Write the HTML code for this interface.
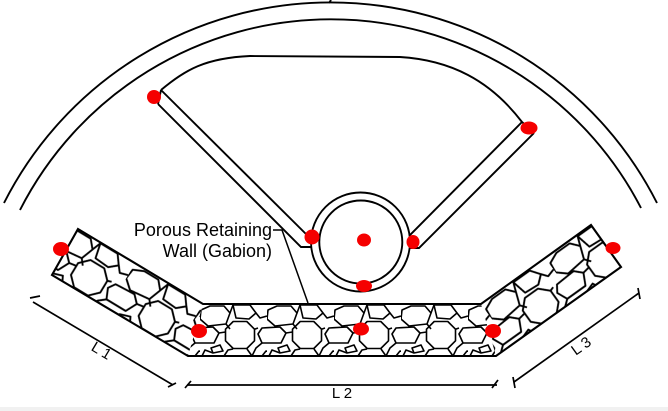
<!DOCTYPE html>
<html>
<head>
<meta charset="utf-8">
<style>
  html,body{margin:0;padding:0;background:#fff;}
  svg{display:block;}
  text{font-family:"Liberation Sans", Arial, sans-serif;fill:#000;}
</style>
</head>
<body>
<svg width="668" height="411" viewBox="0 0 668 411" xmlns="http://www.w3.org/2000/svg">
  <defs>
    <g id="tile" fill="none" stroke="#000" stroke-width="1.6" stroke-linejoin="round">
      <polygon points="1,6 10,2 24,2 30,9 26,20 8,22 0,15"/>
      <polygon points="54.5,36.8 46.8,44.5 33.2,44.5 25.5,36.8 25.5,25.2 33.2,17.5 46.8,17.5 54.5,25.2"/>
      <polygon points="58,30 62,24 80,23 86,29 81,39 62,39"/>
      <polygon points="-9,30 -5,24 13,23 19,29 14,39 -5,39"/>
      <polygon points="11,44 20,41 23,47 13,49"/>
      <polygon points="33,1 50,1 56,9 49,15 36,14"/>
      <polyline points="56,9 60,14 67,12"/>
      <polyline points="-11,9 -7,14 0,12 0,15"/>
      <polyline points="24,52 28,46 33,45"/>
      <polyline points="47,45 52,52"/>
      <polyline points="52,52 56,44 62,39"/>
      <polyline points="-15,52 -11,44 -5,39"/>
      <polyline points="26,20 30,25"/>
      <polyline points="30,9 33,1"/>
      <polyline points="19,29 25.5,28"/>
      <polyline points="54.5,25.2 58,24"/>
      <polyline points="2,52 5,46 13,49"/>
      <polyline points="62,52 66,47 70,48"/>
    </g>
    <pattern id="stM" patternUnits="userSpaceOnUse" x="267" y="304" width="67" height="52">
      <use href="#tile"/>
    </pattern>
    <pattern id="stL" patternUnits="userSpaceOnUse" x="0" y="0" width="67" height="52"
             patternTransform="translate(203,304) rotate(31.2) scale(1.18)">
      <use href="#tile"/>
    </pattern>
    <pattern id="stR" patternUnits="userSpaceOnUse" x="0" y="0" width="67" height="52"
             patternTransform="translate(481,304) rotate(-35.6) scale(1.18)">
      <use href="#tile"/>
    </pattern>
  </defs>

  <rect x="0" y="0" width="668" height="411" fill="#fff"/>

  <!-- outer arcs -->
  <g fill="none" stroke="#000" stroke-width="1.9">
    <path d="M4,203 A366,366 0 0 1 657,203"/>
    <path d="M20,210 A349,349 0 0 1 641,208"/>
    <line x1="329" y1="3" x2="331" y2="0"/>
    <!-- inner tunnel curve -->
    <path d="M161,90 C185,70 205,58 250,56 L400,57 C450,60 490,80 522,122"/>
    <!-- left spoke -->
    <line x1="161" y1="90" x2="311" y2="239"/>
    <polyline points="158,104 301,247 311.3,247"/>
    <line x1="161" y1="90" x2="158" y2="104"/>
    <!-- right spoke -->
    <line x1="522" y1="122" x2="409.6" y2="235.4"/>
    <polyline points="534,133 419,248 409.6,248"/>
    <line x1="522" y1="122" x2="534" y2="133"/>
    <!-- pipe -->
    <circle cx="360.5" cy="242" r="49.5"/>
    <circle cx="360.8" cy="242" r="41.5"/>
  </g>

  <!-- gabion fill -->
  <polygon points="78,229 203,304 188,356 52,275" fill="url(#stL)"/>
  <polygon points="203,304 481,304 496,356 188,356" fill="url(#stM)"/>
  <polygon points="481,304 591,225 621,267 496,356" fill="url(#stR)"/>
  <path d="M78,229 L203,304 L481,304 L591,225 L621,267 L496,356 L188,356 L52,275 Z"
        fill="none" stroke="#000" stroke-width="2.1" stroke-linejoin="miter"/>

  <!-- label + leader -->
  <text x="272" y="236" font-size="18" text-anchor="end">Porous Retaining</text>
  <text x="272" y="257" font-size="18" text-anchor="end">Wall (Gabion)</text>
  <polyline points="273,230 282,230 308,303" fill="none" stroke="#000" stroke-width="1.5"/>

  <!-- dimension lines -->
  <g fill="none" stroke="#000" stroke-width="1.7">
    <line x1="33" y1="302" x2="173" y2="385"/>
    <line x1="30" y1="298" x2="40" y2="296"/>
    <line x1="168" y1="387" x2="176" y2="383"/>

    <line x1="187" y1="385" x2="497" y2="385"/>
    <line x1="185" y1="388" x2="191" y2="381"/>
    <line x1="492" y1="388" x2="498" y2="380"/>

    <line x1="514" y1="382" x2="639" y2="293"/>
    <line x1="513" y1="377" x2="515" y2="388"/>
    <line x1="638" y1="288" x2="640" y2="299"/>
  </g>
  <text font-size="15" text-anchor="middle" transform="translate(99,355) rotate(31)">L 1</text>
  <text x="342" y="398" font-size="15" text-anchor="middle">L 2</text>
  <text font-size="15" text-anchor="middle" transform="translate(584,350) rotate(-35.5)">L 3</text>

  <!-- red markers -->
  <g fill="#f50000">
    <ellipse cx="154" cy="97" rx="7" ry="7"/>
    <ellipse cx="529" cy="128" rx="8.5" ry="6.5"/>
    <ellipse cx="312" cy="237" rx="7.5" ry="7.5"/>
    <ellipse cx="364" cy="240" rx="7" ry="6.5"/>
    <ellipse cx="413" cy="242" rx="6.5" ry="7"/>
    <ellipse cx="364" cy="286" rx="8" ry="6"/>
    <ellipse cx="61" cy="249" rx="8" ry="7"/>
    <ellipse cx="199" cy="331" rx="8" ry="7"/>
    <ellipse cx="361" cy="329" rx="8" ry="6.5"/>
    <ellipse cx="493" cy="331" rx="8" ry="7"/>
    <ellipse cx="613" cy="248" rx="7.5" ry="6"/>
  </g>

  <!-- bottom strip -->
  <rect x="0" y="407" width="668" height="4" fill="#f1f1f1"/>
</svg>
</body>
</html>
